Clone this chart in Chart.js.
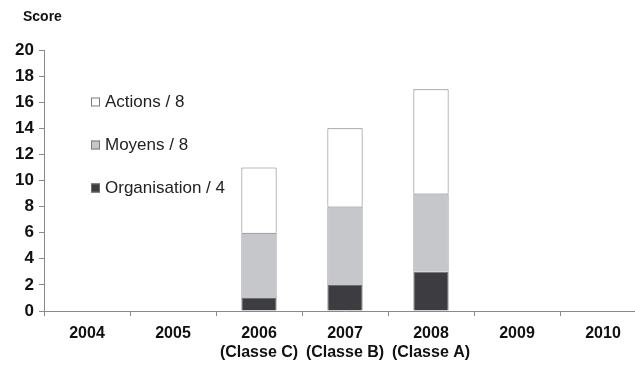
<!DOCTYPE html>
<html>
<head>
<meta charset="utf-8">
<script src="https://cdn.jsdelivr.net/npm/chart.js@4.4.1/dist/chart.umd.min.js"></script>
<style>
  html, body { margin: 0; padding: 0; background: #fff; overflow: hidden; }
  #wrap { width: 646px; height: 365px; }
</style>
</head>
<body>
<div id="wrap"><canvas id="c" width="646" height="365"></canvas></div>
<script>
// Categories and series
const years = ['2004', '2005', '2006', '2007', '2008', '2009', '2010'];
const classes = ['', '', '(Classe C)', '(Classe B)', '(Classe A)', '', ''];
const organisation = [null, null, 1, 2, 3, null, null];
const moyens = [null, null, 5, 6, 6, null, null];
const actions = [null, null, 5, 6, 8, null, null];
const yTicks = [0, 2, 4, 6, 8, 10, 12, 14, 16, 18, 20];

const labels = years.map((y, i) => classes[i] ? [y, classes[i]] : y);

const FONT = "'Liberation Sans', Arial, sans-serif";
const AXIS = '#8a8a8a';

// Legend drawn inside the plot, top entry first
const insideLegend = {
  id: 'insideLegend',
  afterDraw(chart) {
    const ctx = chart.ctx;
    const items = chart.data.datasets.slice().reverse();
    ctx.save();
    ctx.font = '17px ' + FONT;
    ctx.textBaseline = 'middle';
    ctx.textAlign = 'left';
    items.forEach((ds, i) => {
      const cy = 102 + i * 43;
      ctx.fillStyle = ds.backgroundColor;
      ctx.fillRect(91, cy - 4.5, 9, 9);
      ctx.strokeStyle = ds.borderColor;
      ctx.lineWidth = 1;
      ctx.strokeRect(91.5, cy - 4, 8, 8);
      ctx.fillStyle = '#222';
      ctx.fillText(ds.label, 105, cy);
    });
    ctx.restore();
  }
};

// Axis caption above the value axis
const scoreCaption = {
  id: 'scoreCaption',
  afterDraw(chart) {
    const ctx = chart.ctx;
    ctx.save();
    ctx.font = 'bold 14px ' + FONT;
    ctx.fillStyle = '#111';
    ctx.textBaseline = 'middle';
    ctx.textAlign = 'left';
    ctx.fillText('Score', 23, 17);
    ctx.restore();
  }
};

new Chart(document.getElementById('c'), {
  type: 'bar',
  data: {
    labels: labels,
    datasets: [
      { label: 'Organisation / 4', data: organisation, backgroundColor: '#3d3c41', borderColor: '#6e6e6e', borderWidth: 1 },
      { label: 'Moyens / 8', data: moyens, backgroundColor: '#c6c7cb', borderColor: '#7a7a7a', borderWidth: 1 },
      { label: 'Actions / 8', data: actions, backgroundColor: '#ffffff', borderColor: '#7a7a7a', borderWidth: 1 }
    ]
  },
  options: {
    responsive: false,
    animation: false,
    devicePixelRatio: 1,
    layout: { padding: { top: 50, left: 0, right: 0, bottom: 0 } },
    datasets: { bar: { categoryPercentage: 1, barPercentage: 0.41 } },
    plugins: {
      legend: { display: false },
      title: { display: false },
      tooltip: { enabled: false }
    },
    scales: {
      x: {
        stacked: true,
        offset: true,
        grid: { display: true, drawOnChartArea: false, offset: true, tickLength: 5, color: AXIS },
        border: { display: true, color: AXIS, width: 1 },
        ticks: {
          color: '#111',
          padding: 8,
          maxRotation: 0,
          autoSkip: false,
          font: { family: FONT, size: 16, weight: 'bold', lineHeight: 1.2 }
        },
        afterFit(scale) { scale.height = 54; }
      },
      y: {
        stacked: true,
        min: 0,
        max: 20,
        afterBuildTicks(scale) { scale.ticks = yTicks.map(v => ({ value: v })); },
        grid: { display: true, drawOnChartArea: false, tickLength: 5, color: AXIS },
        border: { display: true, color: AXIS, width: 1 },
        ticks: {
          color: '#111',
          padding: 5,
          font: { family: FONT, size: 17, weight: 'bold' }
        },
        afterFit(scale) { scale.width = 44; }
      }
    }
  },
  plugins: [insideLegend, scoreCaption]
});
</script>
</body>
</html>
